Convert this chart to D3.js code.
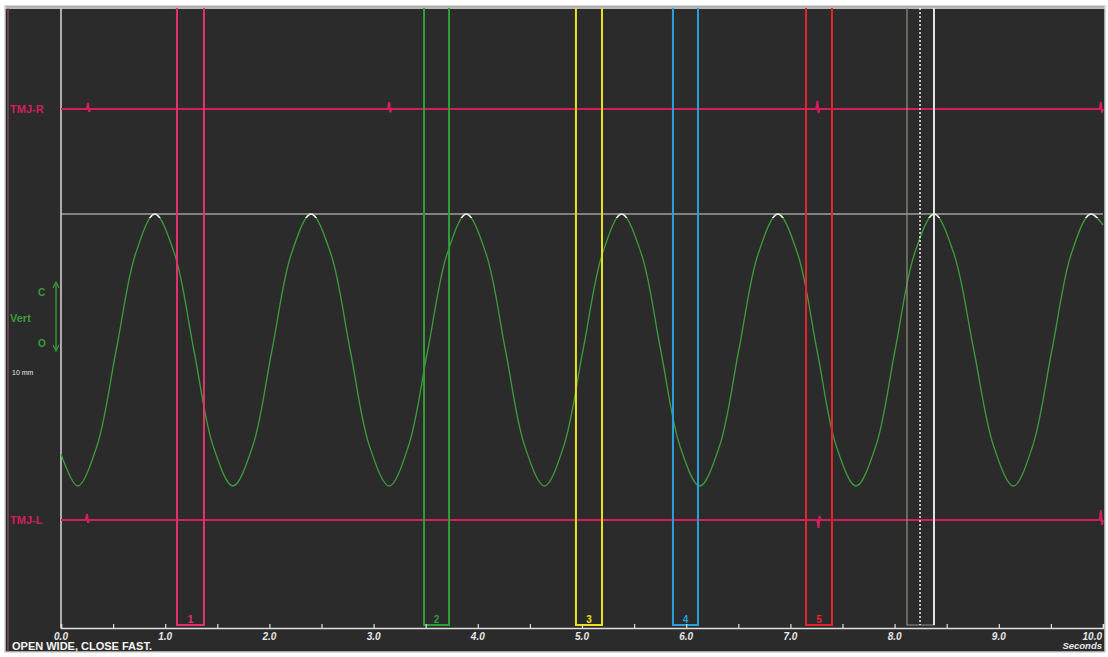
<!DOCTYPE html>
<html><head><meta charset="utf-8">
<script src="https://cdn.jsdelivr.net/npm/d3@7"></script>
<style>
html,body{margin:0;padding:0;background:#fff;}
svg{display:block;font-family:"Liberation Sans",Arial,sans-serif;}
</style></head>
<body>
<svg id="chart" width="1108" height="657"></svg>
<script>
// ---- data ----
const timeTicks = [0,0.5,1,1.5,2,2.5,3,3.5,4,4.5,5,5.5,6,6.5,7,7.5,8,8.5,9,9.5,10];
const tickLabels = ["0.0","1.0","2.0","3.0","4.0","5.0","6.0","7.0","8.0","9.0","10.0"];

// vertical jaw position (mm, 0 = closed top)
const vertTime = [0.00,0.16,0.345,0.53,0.715,0.90,1.09,1.275,1.46,1.65,1.84,2.025,2.21,2.40,2.59,2.775,2.96,3.15,3.335,3.52,3.705,3.89,4.08,4.265,4.45,4.64,4.825,5.01,5.195,5.38,5.57,5.755,5.94,6.13,6.32,6.505,6.69,6.88,7.07,7.255,7.44,7.63,7.82,8.005,8.19,8.38,8.57,8.76,8.95,9.14,9.325,9.51,9.695,9.88,10.0];
const vertMM   = [-24.0,-27.2,-23.2,-13.6,-4.0,0,-4.0,-13.6,-23.2,-27.2,-23.2,-13.6,-4.0,0,-4.0,-13.6,-23.2,-27.2,-23.2,-13.6,-4.0,0,-4.0,-13.6,-23.2,-27.2,-23.2,-13.6,-4.0,0,-4.0,-13.6,-23.2,-27.2,-23.2,-13.6,-4.0,0,-4.0,-13.6,-23.2,-27.2,-23.2,-13.6,-4.0,0,-4.0,-13.6,-23.2,-27.2,-23.2,-13.6,-4.0,0,-1.1];

// TMJ sound traces: spike times and amplitudes
const tmjRSpikeT = [0.26,3.15,7.26,9.98];
const tmjRSpikeA = [6,7,8,7];
const tmjLSpikeT = [0.25,7.27,9.98];
const tmjLSpikeA = [6,-8,10];

// cursor / marker windows
const markerLabels = ["1","2","3","4","5"];
const markerStart  = [1.113,3.484,4.942,5.873,7.150];
const markerEnd    = [1.372,3.724,5.192,6.113,7.399];
const cursorStart = 8.119, cursorMid = 8.244, cursorEnd = 8.378;

// ---- drawing ----
const svg = d3.select("#chart");
const markerColors = ["#e6306c","#2f9e3b","#e8e021","#2b9fd9","#e2262e"];
const tmjColor = "#d21f5c";
const greenC = "#3c9c3c";

const x = d3.scaleLinear().domain([0,10]).range([61,1103]);
const y = d3.scaleLinear().domain([0,-27.2]).range([214,486]);
const tmjAmp = d3.scaleLinear().domain([-10,10]).range([10,-10]);
const axisY = 628;

// background & frame
svg.append("rect").attr("x",5).attr("y",6).attr("width",1100).attr("height",646)
  .attr("fill","#2b2b2b").attr("stroke","#cfcfcf").attr("stroke-width",1.5);
svg.append("line").attr("x1",5).attr("x2",1105).attr("y1",8).attr("y2",8)
  .attr("stroke","#e8e8e8").attr("stroke-width",1.5);
svg.append("line").attr("x1",8).attr("x2",8).attr("y1",8).attr("y2",652)
  .attr("stroke","#9a5a70").attr("stroke-width",1);

// left time zero line
svg.append("line").attr("x1",x(0)).attr("x2",x(0)).attr("y1",8).attr("y2",axisY)
  .attr("stroke","#d8d8d8").attr("stroke-width",1.5);

// white reference line at top of vert
svg.append("line").attr("x1",x(0)).attr("x2",x(10)).attr("y1",y(0)).attr("y2",y(0))
  .attr("stroke","#d8d8d8").attr("stroke-width",1.2);

// TMJ traces
function tracePoints(spT, spA){
  const pts=[[0,0]];
  spT.forEach((t,i)=>{
    pts.push([t-0.012,0],[t,spA[i]],[t+0.01,-spA[i]*0.5],[t+0.02,0]);
  });
  pts.push([10,0]);
  return pts.filter(p=>p[0]>=0 && p[0]<=10).sort((a,b)=>a[0]-b[0]);
}
function drawTrace(baseY, spT, spA, label){
  const line = d3.line().x(d=>x(d[0])).y(d=>baseY+tmjAmp(d[1]));
  svg.append("path").datum(tracePoints(spT,spA)).attr("d",line)
    .attr("fill","none").attr("stroke",tmjColor).attr("stroke-width",2);
  svg.append("text").attr("x",10).attr("y",baseY+4).text(label)
    .attr("fill",tmjColor).attr("font-size",11).attr("font-weight","bold");
}
drawTrace(109, tmjRSpikeT, tmjRSpikeA, "TMJ-R");
drawTrace(520, tmjLSpikeT, tmjLSpikeA, "TMJ-L");

// vertical trace
const vData = vertTime.map((t,i)=>[t,vertMM[i]]);
const vLine = d3.line().x(d=>x(d[0])).y(d=>y(d[1])).curve(d3.curveCatmullRom.alpha(0.5));
svg.append("path").datum(vData).attr("d",vLine).attr("fill","none")
  .attr("stroke",greenC).attr("stroke-width",1.3);
svg.append("clipPath").attr("id","capclip").append("rect")
  .attr("x",x(0)).attr("y",y(0)-2).attr("width",x(10)-x(0)).attr("height",6);
svg.append("path").datum(vData).attr("d",vLine).attr("fill","none")
  .attr("stroke","#f0f0f0").attr("stroke-width",1.6).attr("clip-path","url(#capclip)");

// vert labels
svg.append("text").attr("x",10).attr("y",322).text("Vert").attr("fill",greenC)
  .attr("font-size",11).attr("font-weight","bold");
svg.append("text").attr("x",38).attr("y",296).text("C").attr("fill",greenC)
  .attr("font-size",10).attr("font-weight","bold");
svg.append("text").attr("x",38).attr("y",347).text("O").attr("fill",greenC)
  .attr("font-size",10).attr("font-weight","bold");
svg.append("line").attr("x1",56).attr("x2",56).attr("y1",284).attr("y2",349)
  .attr("stroke",greenC).attr("stroke-width",1.3);
svg.append("path").attr("d","M53,288 L56,282 L59,288").attr("fill","none").attr("stroke",greenC).attr("stroke-width",1.2);
svg.append("path").attr("d","M53,345 L56,351 L59,345").attr("fill","none").attr("stroke",greenC).attr("stroke-width",1.2);
svg.append("text").attr("x",12).attr("y",375).text("10 mm").attr("fill","#e8e8e8")
  .attr("font-size",7);

// marker windows
const boxBottom = 625;
markerLabels.forEach((lab,i)=>{
  const g = svg.append("g");
  const c = markerColors[i];
  const x1 = x(markerStart[i]), x2 = x(markerEnd[i]);
  g.append("path").attr("d",`M${x1},8 L${x1},${boxBottom} L${x2},${boxBottom} L${x2},8`)
    .attr("fill","none").attr("stroke",c).attr("stroke-width",2);
  g.append("text").attr("x",(x1+x2)/2).attr("y",boxBottom-2).attr("text-anchor","middle")
    .text(lab).attr("fill",c).attr("font-size",10).attr("font-weight","bold");
});

// cursor window
{
  const x1=x(cursorStart), xm=x(cursorMid), x2=x(cursorEnd);
  svg.append("path").attr("d",`M${x1},8 L${x1},${boxBottom} L${x2},${boxBottom} L${x2},8`)
    .attr("fill","none").attr("stroke","#8e9480").attr("stroke-width",1.2);
  svg.append("line").attr("x1",x2).attr("x2",x2).attr("y1",8).attr("y2",boxBottom)
    .attr("stroke","#f0f0f0").attr("stroke-width",1.8);
  svg.append("line").attr("x1",xm).attr("x2",xm).attr("y1",8).attr("y2",boxBottom)
    .attr("stroke","#f4f4f4").attr("stroke-width",1.5).attr("stroke-dasharray","2,2");
}

// time axis
const axis = d3.axisBottom(x).tickValues(timeTicks).tickSize(-4).tickFormat("");
const ag = svg.append("g").attr("transform",`translate(0,${axisY})`).call(axis);
ag.select(".domain").attr("stroke","#e0e0e0").attr("stroke-width",1.6);
ag.selectAll(".tick line").attr("stroke","#e0e0e0").attr("stroke-width",1.2);
tickLabels.forEach((lab,i)=>{
  svg.append("text").attr("x", i===10 ? x(10)-1 : x(i)).attr("y",axisY+12)
    .attr("text-anchor", i===10 ? "end" : "middle").text(lab)
    .attr("fill","#e8e8e8").attr("font-size",10).attr("font-weight","bold").attr("font-style","italic");
});
svg.append("text").attr("x",x(10)-1).attr("y",axisY+21).attr("text-anchor","end").text("Seconds")
  .attr("fill","#e8e8e8").attr("font-size",9.5).attr("font-weight","bold").attr("font-style","italic");

svg.append("text").attr("x",12).attr("y",650).text("OPEN WIDE, CLOSE FAST.")
  .attr("fill","#f4f4f4").attr("font-size",11).attr("font-weight","bold");
</script>
</body></html>
